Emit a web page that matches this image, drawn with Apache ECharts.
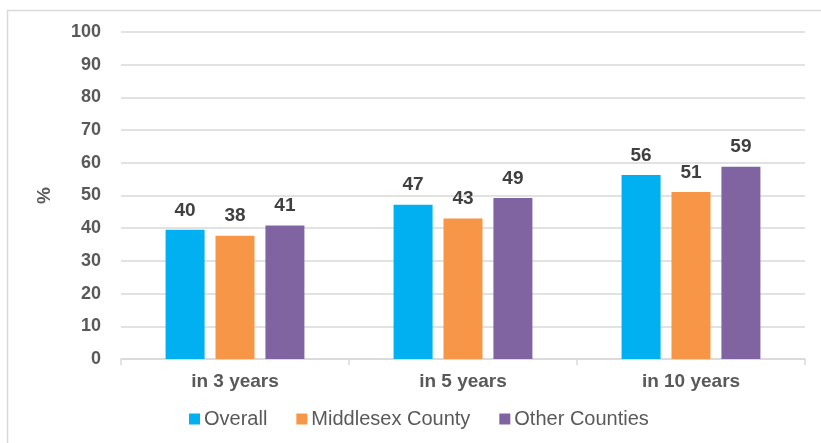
<!DOCTYPE html>
<html>
<head>
<meta charset="utf-8">
<script src="https://cdn.jsdelivr.net/npm/echarts@6/dist/echarts.min.js"></script>
<style>
html,body{margin:0;padding:0;background:#fff;}
#c{width:821px;height:443px;}
</style>
</head>
<body>
<div id="c"></div>
<script>
const categories = ['in 3 years', 'in 5 years', 'in 10 years'];
const seriesNames = ['Overall', 'Middlesex County', 'Other Counties'];
const overall = [39.5, 47.2, 56.3];
const middlesex = [37.7, 43.0, 51.1];
const otherCounties = [40.8, 49.2, 58.8];
const colors = ['#00B0F0', '#F79646', '#8064A2'];

const chart = echarts.init(document.getElementById('c'), null, {renderer: 'canvas'});
const font = '"Liberation Sans", Arial, sans-serif';
const values = [overall, middlesex, otherCounties];

chart.setOption({
  animation: false,
  graphic: [{
    type: 'rect', shape: {x: 7.5, y: 10.5, width: 900, height: 500},
    style: {fill: 'none', stroke: '#d9d9d9', lineWidth: 1.5}, silent: true, z: -1
  }],
  grid: {left: 121, right: 16, top: 32, bottom: 84},
  legend: {
    top: 409, left: 189, padding: 0,
    itemWidth: 11, itemHeight: 11, itemGap: 29,
    icon: 'rect',
    textStyle: {color: '#595959', fontSize: 20, fontFamily: font, padding: [0, 0, 0, -1]},
    data: seriesNames
  },
  xAxis: {
    type: 'category', data: categories,
    axisLine: {lineStyle: {color: '#d9d9d9', width: 1.5}},
    axisTick: {show: true, length: 6, lineStyle: {color: '#d9d9d9', width: 1.5}},
    axisLabel: {color: '#595959', fontSize: 19, fontWeight: 'bold', fontFamily: font, margin: 13}
  },
  yAxis: {
    type: 'value', min: 0, max: 100, interval: 10,
    name: '%', nameLocation: 'middle', nameGap: 67, nameRotate: 90,
    nameTextStyle: {color: '#595959', fontSize: 19, fontWeight: 'bold', fontFamily: font},
    axisLine: {show: false}, axisTick: {show: false},
    splitLine: {lineStyle: {color: '#d9d9d9', width: 1.5}},
    axisLabel: {color: '#595959', fontSize: 18, fontWeight: 'bold', fontFamily: font, margin: 20}
  },
  series: seriesNames.map((n, i) => ({
    name: n, type: 'bar', data: values[i],
    barWidth: 39, barGap: '28%',
    itemStyle: {color: colors[i]},
    label: {
      show: true, position: 'top', distance: 10,
      color: '#404040', fontSize: 19, fontWeight: 'bold', fontFamily: font,
      formatter: p => Math.round(p.value)
    }
  }))
});
</script>
</body>
</html>
